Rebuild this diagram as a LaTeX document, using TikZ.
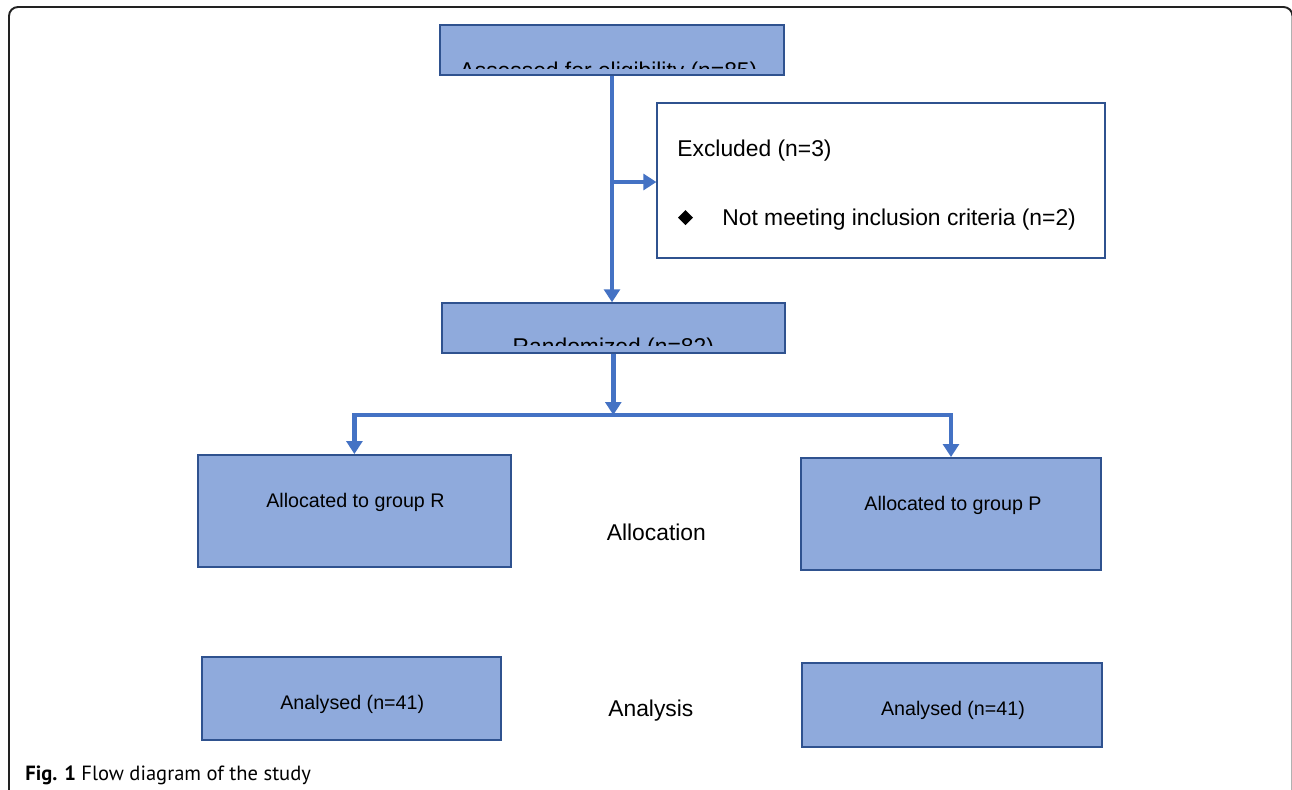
\documentclass[tikz,border=0pt]{standalone}
\usepackage{fontspec}
\setmainfont{Liberation Sans}
\newfontfamily\capfont{PT Sans}
\usetikzlibrary{arrows.meta}
\definecolor{boxfill}{HTML}{8FAADC}
\definecolor{boxedge}{HTML}{2F528F}
\definecolor{arrowblue}{HTML}{4472C4}
\definecolor{framec}{HTML}{222222}
\tikzset{
  bbox/.style={draw=boxedge, fill=boxfill, line width=1.1pt, inner sep=0pt},
  wbox/.style={draw=boxedge, fill=white, line width=1.1pt, inner sep=0pt},
  arr/.style={draw=arrowblue, line width=2.5pt, line join=miter, -{Triangle[length=7.4pt,width=9pt]}},
  big/.style={font=\fontsize{13}{15}\selectfont, inner sep=0pt},
  small/.style={font=\fontsize{11.2}{13}\selectfont, inner sep=0pt},
}
\begin{document}
\begin{tikzpicture}[x=0.02cm, y=-0.02cm]
\clip (0,0) rectangle (1292,789);
\fill[white] (0,0) rectangle (1292,789);
% outer frame
\draw[framec, line width=1.1pt, rounded corners=0.18cm] (9,7) rectangle (1292.5,900);

% boxes
\node[bbox, minimum width=6.88cm, minimum height=1.0cm] (a1) at (612,50) {};
\node[bbox, minimum width=6.86cm, minimum height=0.99cm] (a2) at (613.3,328) {};
\node[wbox, minimum width=8.954cm, minimum height=3.1cm] (ex) at (881.2,180.8) {};
\node[bbox, minimum width=6.254cm, minimum height=2.24cm] (gR) at (354.4,511) {};
\node[bbox, minimum width=6.0cm, minimum height=2.24cm] (gP) at (951,514) {};
\node[bbox, minimum width=5.98cm, minimum height=1.66cm] (aL) at (351.5,698.5) {};
\node[bbox, minimum width=6.0cm, minimum height=1.686cm] (aR) at (952,705) {};

% clipped texts (cut off by the text frame inside the box)
\begin{scope}
\clip ([shift={(0.55pt,0pt)}]a1.west |- 0,68.5) rectangle ([shift={(-0.55pt,-0.55pt)}]a1.north east);
\node[big, anchor=base] (t1) at (608.5,78.3) {Assessed for eligibility (n=85)};
\end{scope}
\begin{scope}
\clip ([shift={(0.55pt,0pt)}]a2.west |- 0,345.5) rectangle ([shift={(-0.55pt,-0.55pt)}]a2.north east);
\node[big, anchor=base] (t2) at (613.3,354.8) {Randomized (n=82)};
\end{scope}

% excluded texts
\node[big, anchor=base west] (ex1) at (677,156.7) {Excluded (n=3)};
\fill[black] (685.5,210) -- (693,217.5) -- (685.5,225) -- (678,217.5) -- cycle;
\node[big, anchor=base west] (ex2) at (722,225) {Not meeting inclusion criteria (n=2)};

% box texts
\node[small, anchor=base west] (tR) at (266,507) {Allocated to group R};
\node[small, anchor=base] (tP) at (953,510) {Allocated to group P};
\node[small, anchor=base west] (tAL) at (280,709) {Analysed (n=41)};
\node[small, anchor=base west] (tAR) at (880.7,715) {Analysed (n=41)};
\node[big, anchor=base west] (lA) at (606.5,540) {Allocation};
\node[big, anchor=base west] (lB) at (608,716.7) {Analysis};

% connectors
\coordinate (j1) at (612,182);
\coordinate (j2) at (613.3,415);
\draw[arr] (a1.south) -- (a1.south |- a2.north);
\draw[arr] (j1) -- (ex.west |- j1);
\draw[arr] (a2.south) -- (j2);
\draw[arr] (j2) -| (gR.north);
\draw[arr] (j2) -| (gP.north);

% caption
\node[anchor=base west, inner sep=0pt, font=\capfont\fontsize{11.7}{14}\selectfont] (cap) at (25,780.7) {\textbf{Fig. 1} Flow diagram of the study};
\end{tikzpicture}
\end{document}
